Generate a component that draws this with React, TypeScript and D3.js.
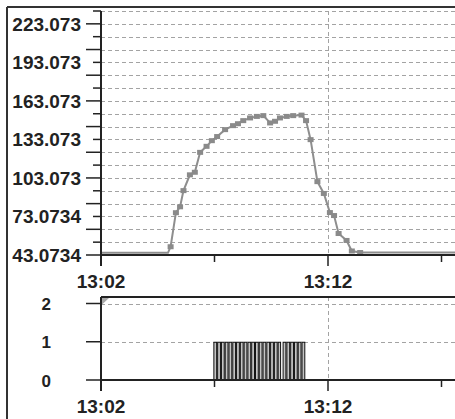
import React, { useRef, useEffect } from "react";
import * as d3 from "d3";

// sampled values, top panel (time, value)
const sampleTimes = [
  "13:02:00", "13:04:57", "13:05:04", "13:05:18", "13:05:29", "13:05:38", "13:05:55",
  "13:06:08", "13:06:22", "13:06:39", "13:06:53", "13:07:07", "13:07:28", "13:07:49",
  "13:08:02", "13:08:16", "13:08:34", "13:08:52", "13:09:09", "13:09:27", "13:09:40",
  "13:09:53", "13:10:11", "13:10:28", "13:10:50", "13:11:02", "13:11:14", "13:11:32",
  "13:11:49", "13:12:05", "13:12:16", "13:12:28", "13:12:49", "13:13:03", "13:13:25",
  "13:18:00",
];
const sampleValues = [
  44.8, 44.8, 49.5, 76.0, 80.6, 93.2, 105.5,
  107.5, 123.0, 127.7, 132.1, 135.3, 140.7, 143.8,
  145.3, 147.7, 149.8, 151.0, 151.6, 145.9, 147.2,
  149.8, 151.0, 151.6, 152.0, 147.7, 132.9, 100.2,
  91.0, 76.1, 73.8, 59.8, 54.4, 46.2, 45.0,
  45.0,
];
// points drawn with a marker (index into samples)
const markerIdx = [2, 3, 4, 5, 6, 7, 8, 9, 10, 11, 12, 13, 14, 15, 16, 17, 18, 19, 20, 21, 22, 23, 24, 25, 26, 27, 28, 29, 30, 31, 32, 33, 34];

// state samples, bottom panel (value 1)
const stateStarts = [
  "13:06:57", "13:07:07", "13:07:17", "13:07:27", "13:07:37", "13:07:47", "13:07:57",
  "13:08:07", "13:08:17", "13:08:27", "13:08:37", "13:08:47", "13:08:57", "13:09:07",
  "13:09:17", "13:09:27", "13:09:37", "13:09:47", "13:10:00", "13:10:10", "13:10:20",
  "13:10:30", "13:10:40", "13:10:50",
];
const stateEnds = [
  "13:07:07", "13:07:17", "13:07:27", "13:07:37", "13:07:47", "13:07:57", "13:08:07",
  "13:08:17", "13:08:27", "13:08:37", "13:08:47", "13:08:57", "13:09:07", "13:09:17",
  "13:09:27", "13:09:37", "13:09:47", "13:09:56", "13:10:10", "13:10:20", "13:10:30",
  "13:10:40", "13:10:50", "13:11:00",
];
const stateValue = 1;
const cornerTimes = ["13:02:00", "13:02:24", "13:02:00"];
const cornerValues = [2.17, 2.17, 1.95];

// axes
const topLabelValues = [43.0734, 73.0734, 103.073, 133.073, 163.073, 193.073, 223.073];
const topLabels = ["43.0734", "73.0734", "103.073", "133.073", "163.073", "193.073", "223.073"];
const topLongTicks = [43.0734, 63.0734, 83.0734, 103.0734, 123.0734, 143.0734, 163.0734, 183.0734, 203.0734, 223.0734];
const topShortTicks = [53.0734, 73.0734, 93.0734, 113.0734, 133.0734, 153.0734, 173.0734, 193.0734, 213.0734, 233.0734];
const botTicks = [0, 1, 2];
const botLabels = ["0", "1", "2"];
const botGrid = [1, 2];
const xMajor = ["13:02:00", "13:12:00"];
const xMajorLabels = ["13:02", "13:12"];
const xMinor = ["13:07:00", "13:17:00"];

const parse = d3.timeParse("%H:%M:%S");

export default function App() {
  const svgRef = useRef<SVGSVGElement>(null);

  useEffect(() => {
    const svg = d3.select(svgRef.current);
    svg.selectAll("*").remove();

    const W = 455, H = 419;
    const left = 101;
    const x = d3.scaleTime()
      .domain([parse("13:02:00")!, parse("13:12:00")!])
      .range([left, 328]);
    const yTop = d3.scaleLinear().domain([43.0734, 233.0734]).range([255, 11]);
    const yBot = d3.scaleLinear().domain([0, 2]).range([380, 303.5]);
    const botTop = yBot(2.17);

    const font = "'Liberation Sans', Arial, sans-serif";
    const dark = "#222";
    const gridCol = "#a3a3a3";

    svg.append("defs").append("clipPath").attr("id", "plotclip")
      .append("rect").attr("x", left).attr("y", 0).attr("width", W - left).attr("height", H);

    // outer frame
    svg.append("line").attr("x1", 7).attr("x2", W).attr("y1", 7).attr("y2", 7)
      .attr("stroke", "#333").attr("stroke-width", 2);
    svg.append("line").attr("x1", 7).attr("x2", 7).attr("y1", 7).attr("y2", H)
      .attr("stroke", "#333").attr("stroke-width", 2);

    // ---- top panel ----
    const gTop = svg.append("g");
    const gridVals = topLongTicks.concat(topShortTicks).filter((v) => v > 44);
    gTop.selectAll(".hg").data(gridVals).join("line")
      .attr("x1", left).attr("x2", W)
      .attr("y1", (d) => Math.round(yTop(d)) + 0.5).attr("y2", (d) => Math.round(yTop(d)) + 0.5)
      .attr("stroke", gridCol).attr("stroke-dasharray", "4,3");
    gTop.selectAll(".vg").data(xMajor.slice(1)).join("line")
      .attr("x1", (d) => Math.round(x(parse(d)!)) + 0.5).attr("x2", (d) => Math.round(x(parse(d)!)) + 0.5)
      .attr("y1", yTop(233.0734)).attr("y2", yTop(43.0734))
      .attr("stroke", gridCol).attr("stroke-dasharray", "4,3");

    const pts = sampleTimes.map((t, i) => ({ t: parse(t)!, v: sampleValues[i] }));
    const line = d3.line<{ t: Date; v: number }>().x((d) => x(d.t)).y((d) => yTop(d.v));
    const plot = gTop.append("g").attr("clip-path", "url(#plotclip)");
    plot.append("path").datum(pts).attr("d", line)
      .attr("fill", "none").attr("stroke", "#8e8e8e").attr("stroke-width", 2);
    plot.selectAll(".mk").data(markerIdx.map((i) => pts[i])).join("rect")
      .attr("x", (d) => x(d.t) - 3).attr("y", (d) => yTop(d.v) - 2.5)
      .attr("width", 6).attr("height", 5).attr("fill", "#8a8a8a");

    // axes top
    gTop.append("line").attr("x1", left).attr("x2", left).attr("y1", yTop(233.0734)).attr("y2", 266)
      .attr("stroke", dark).attr("stroke-width", 2);
    gTop.append("line").attr("x1", left).attr("x2", W).attr("y1", 255).attr("y2", 255)
      .attr("stroke", dark).attr("stroke-width", 2);
    gTop.selectAll(".lt").data(topLongTicks).join("line")
      .attr("x1", left - 15).attr("x2", left).attr("y1", (d) => yTop(d)).attr("y2", (d) => yTop(d))
      .attr("stroke", dark).attr("stroke-width", 1.5);
    gTop.selectAll(".st").data(topShortTicks).join("line")
      .attr("x1", left - 8).attr("x2", left).attr("y1", (d) => yTop(d)).attr("y2", (d) => yTop(d))
      .attr("stroke", dark).attr("stroke-width", 1.5);
    gTop.selectAll(".yl").data(topLabelValues).join("text")
      .attr("x", 81).attr("y", (d) => yTop(d) + 7)
      .attr("text-anchor", "end").attr("font-family", font).attr("font-weight", "bold")
      .attr("font-size", 19).attr("fill", dark)
      .text((d, i) => topLabels[i]);
    gTop.selectAll(".xt").data(xMajor).join("line")
      .attr("x1", (d) => x(parse(d)!)).attr("x2", (d) => x(parse(d)!)).attr("y1", 255).attr("y2", 266)
      .attr("stroke", dark).attr("stroke-width", 1.5);
    gTop.selectAll(".xm").data(xMinor).join("line")
      .attr("x1", (d) => x(parse(d)!)).attr("x2", (d) => x(parse(d)!)).attr("y1", 255).attr("y2", 262)
      .attr("stroke", dark).attr("stroke-width", 1.5);
    gTop.selectAll(".xl").data(xMajor).join("text")
      .attr("x", (d) => x(parse(d)!)).attr("y", 288)
      .attr("text-anchor", "middle").attr("font-family", font).attr("font-weight", "bold")
      .attr("font-size", 19).attr("fill", dark)
      .text((d, i) => xMajorLabels[i]);

    // ---- bottom panel ----
    const gBot = svg.append("g");
    gBot.selectAll(".hg").data(botGrid).join("line")
      .attr("x1", left).attr("x2", W)
      .attr("y1", (d) => Math.round(yBot(d)) + 0.5).attr("y2", (d) => Math.round(yBot(d)) + 0.5)
      .attr("stroke", gridCol).attr("stroke-dasharray", "4,3");
    gBot.selectAll(".vg").data(xMajor.slice(1)).join("line")
      .attr("x1", (d) => Math.round(x(parse(d)!)) + 0.5).attr("x2", (d) => Math.round(x(parse(d)!)) + 0.5)
      .attr("y1", botTop).attr("y2", yBot(0))
      .attr("stroke", gridCol).attr("stroke-dasharray", "4,3");

    const bplot = gBot.append("g").attr("clip-path", "url(#plotclip)");
    bplot.selectAll(".bar").data(stateStarts).join("rect")
      .attr("x", (d) => x(parse(d)!) + 0.5)
      .attr("y", yBot(stateValue) + 0.5)
      .attr("width", (d, i) => x(parse(stateEnds[i])!) - x(parse(d)!) - 1)
      .attr("height", yBot(0) - yBot(stateValue))
      .attr("fill", "#c4c4c4").attr("stroke", "#111").attr("stroke-width", 1);
    const corner = cornerTimes.map((t, i) => [x(parse(t)!), yBot(cornerValues[i])] as [number, number]);
    bplot.append("path").attr("d", "M" + corner.join("L") + "Z").attr("fill", "#a8a8a8");

    gBot.append("line").attr("x1", left).attr("x2", W).attr("y1", botTop).attr("y2", botTop)
      .attr("stroke", dark).attr("stroke-width", 2);
    gBot.append("line").attr("x1", left).attr("x2", left).attr("y1", botTop).attr("y2", 391)
      .attr("stroke", dark).attr("stroke-width", 2);
    gBot.append("line").attr("x1", left).attr("x2", W).attr("y1", yBot(0)).attr("y2", yBot(0))
      .attr("stroke", dark).attr("stroke-width", 2);
    gBot.selectAll(".yt").data(botTicks).join("line")
      .attr("x1", left - 15).attr("x2", left).attr("y1", (d) => yBot(d)).attr("y2", (d) => yBot(d))
      .attr("stroke", dark).attr("stroke-width", 1.5);
    gBot.selectAll(".yl").data(botTicks).join("text")
      .attr("x", 51).attr("y", (d) => yBot(d) + 6.5)
      .attr("text-anchor", "end").attr("font-family", font).attr("font-weight", "bold")
      .attr("font-size", 17).attr("fill", dark)
      .text((d, i) => botLabels[i]);
    gBot.selectAll(".xt").data(xMajor).join("line")
      .attr("x1", (d) => x(parse(d)!)).attr("x2", (d) => x(parse(d)!)).attr("y1", 380).attr("y2", 391)
      .attr("stroke", dark).attr("stroke-width", 1.5);
    gBot.selectAll(".xm").data(xMinor).join("line")
      .attr("x1", (d) => x(parse(d)!)).attr("x2", (d) => x(parse(d)!)).attr("y1", 380).attr("y2", 387)
      .attr("stroke", dark).attr("stroke-width", 1.5);
    gBot.selectAll(".xl").data(xMajor).join("text")
      .attr("x", (d) => x(parse(d)!)).attr("y", 413)
      .attr("text-anchor", "middle").attr("font-family", font).attr("font-weight", "bold")
      .attr("font-size", 19).attr("fill", dark)
      .text((d, i) => xMajorLabels[i]);
  }, []);

  return (
    <svg
      ref={svgRef}
      width={455}
      height={419}
      style={{ position: "absolute", left: 0, top: 0, background: "#fff" }}
    />
  );
}
